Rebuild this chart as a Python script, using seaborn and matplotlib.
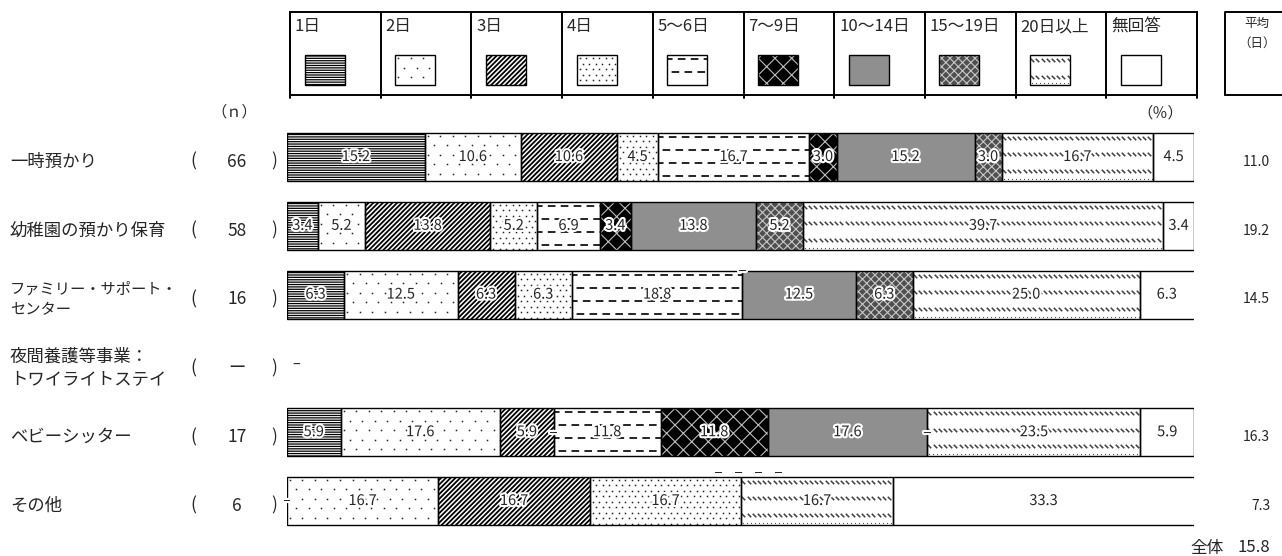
# 利用日数の横帯グラフ（一時預かり等）
import numpy as np
import pandas as pd
import matplotlib.pyplot as plt
import matplotlib.patheffects as pe
from matplotlib.patches import Rectangle
from matplotlib.transforms import blended_transform_factory
import seaborn as sns

# データ
rows = ['一時預かり', '幼稚園の預かり保育', 'ファミリー・サポート・\nセンター',
        '夜間養護等事業：\nトワイライトステイ', 'ベビーシッター', 'その他']
n_labels = ['66', '58', '16', 'ー', '17', '6']
days = ['1日', '2日', '3日', '4日', '5～6日', '7～9日', '10～14日', '15～19日', '20日以上', '無回答']

v_ichiji = [15.2, 10.6, 10.6, 4.5, 16.7, 3.0, 15.2, 3.0, 16.7, 4.5]
v_youchien = [3.4, 5.2, 13.8, 5.2, 6.9, 3.4, 13.8, 5.2, 39.7, 3.4]
v_family = [6.3, 12.5, 6.3, 6.3, 18.8, 0.0, 12.5, 6.3, 25.0, 6.3]
v_twilight = []  # 回答者なし
v_baby = [5.9, 17.6, 5.9, 0.0, 11.8, 11.8, 17.6, 0.0, 23.5, 5.9]
v_other = [0.0, 16.7, 16.7, 16.7, 0.0, 0.0, 0.0, 0.0, 16.7, 33.3]
averages = [11.0, 19.2, 14.5, None, 16.3, 7.3]
overall = 15.8

series = [v_ichiji, v_youchien, v_family, v_twilight, v_baby, v_other]

# 塗りの種類（背景色, ハッチ, ハッチ色, ハッチ線幅, 追加模様）
styles = {
    '1日': dict(fc='white', hatch='-------', hc='black', hlw=0.9),
    '2日': dict(fc='white', tex='dots_sparse'),
    '3日': dict(fc='white', hatch='///////', hc='black', hlw=1.3),
    '4日': dict(fc='white', tex='dots_dense'),
    '5～6日': dict(fc='white', tex='dash'),
    '7～9日': dict(fc='black', hatch='xx', hc='#bdbdbd', hlw=0.8),
    '10～14日': dict(fc='#8f8f8f'),
    '15～19日': dict(fc='#4f4f4f', hatch='xxxx', hc='#c8c8c8', hlw=0.8),
    '20日以上': dict(fc='white', tex='bslash'),
    '無回答': dict(fc='white'),
}
zero_above = {(2, 5)}

sns.set_style('white')
plt.rcParams['font.family'] = ['Noto Sans CJK JP', 'DejaVu Sans']
plt.rcParams['hatch.linewidth'] = 0.8
plt.rcParams['lines.scale_dashes'] = False

# 積み上げ用の表
recs = []
for r, vals in zip(rows, series):
    left = 0.0
    for d, v in zip(days, vals):
        recs.append(dict(row=r, day=d, value=v, left=left))
        left += v
df = pd.DataFrame(recs)

W, H = 1282, 556
fig = plt.figure(figsize=(W / 100, H / 100), dpi=100)
bx0, bx1 = 287, 1194
ytop, ybot = 122.6, 535.4
ax = fig.add_axes([bx0 / W, 1 - ybot / H, (bx1 - bx0) / W, (ybot - ytop) / H])
ov = fig.add_axes([0, 0, 1, 1])
ov.set_xlim(0, W)
ov.set_ylim(H, 0)
ov.set_axis_off()


def clipped_points(axx, patch, xs, ys, **kw):
    pts = axx.transData.inverted().transform(np.column_stack([xs, ys]))
    ln, = axx.plot(pts[:, 0], pts[:, 1], ls='none', zorder=1.3, **kw)
    ln.set_clip_path(patch)


def add_texture(axx, patch, kind):
    bb = patch.get_window_extent()
    inv = axx.transData.inverted()
    if kind == 'dash':
        for k, ypx in enumerate(np.arange(bb.y1 - 4, bb.y0 + 1, -13)):
            pts = inv.transform([(bb.x0 - 15, ypx), (bb.x1 + 15, ypx)])
            ln, = axx.plot(pts[:, 0], pts[:, 1], color='black', lw=1.2, zorder=1.3)
            ln.set_linestyle((0 if k % 2 == 0 else 4.5, (5.5, 3.8)))
            ln.set_clip_path(patch)
    elif kind == 'bslash':
        for ypx in np.arange(bb.y1 - 5, bb.y0 + 6, -16.5):
            xs = np.arange(bb.x0 + 2, bb.x1, 5.2)
            clipped_points(axx, patch, xs, np.full_like(xs, ypx), marker=(2, 2, 45),
                           ms=3.4, mew=0.8, color='#444444')
        xs = np.arange(bb.x0 + 2, bb.x1, 4.0)
        clipped_points(axx, patch, xs, np.full_like(xs, bb.y0 + 2), marker='s',
                       ms=0.8, mew=0, color='#555555')
    elif kind.startswith('dots'):
        dx, dy = (12.5, 9.5) if kind == 'dots_sparse' else (6.5, 5.5)
        for k, ypx in enumerate(np.arange(bb.y1 - 3, bb.y0, -dy)):
            xs = np.arange(bb.x0 + 3 + (dx / 2 if k % 2 else 0), bb.x1, dx)
            clipped_points(axx, patch, xs, np.full_like(xs, ypx), marker='s',
                           ms=1.1, mew=0, color='#222222')


# 帯（塗り）
subs = {}
fills = {}
for d in days:
    st = styles[d]
    sub = df[(df.day == d) & (df.value > 0)]
    subs[d] = sub
    with plt.rc_context({'hatch.linewidth': st.get('hlw', 0.8)}):
        sns.barplot(data=sub, x='value', y='row', order=rows, orient='h', width=0.7,
                    errorbar=None, color=st['fc'], saturation=1, left=sub['left'].to_numpy(),
                    facecolor=st['fc'], edgecolor=st.get('hc', 'black'), hatch=st.get('hatch'),
                    linewidth=0, ax=ax)
    fills[d] = ax.containers[-1]

ax.set_xlim(0, 100)
ax.set_ylim(len(rows) - 0.5, -0.5)

halo = [pe.withStroke(linewidth=3, foreground='white')]
for d in days:
    st = styles[d]
    sub = subs[d]
    if 'tex' in st:
        for p in fills[d]:
            add_texture(ax, p, st['tex'])
    sns.barplot(data=sub, x='value', y='row', order=rows, orient='h', width=0.7,
                errorbar=None, color='white', saturation=1, left=sub['left'].to_numpy(),
                facecolor='none', edgecolor='black', linewidth=1.0, zorder=1.6, ax=ax)
    ax.bar_label(ax.containers[-1], labels=[f'{v:.1f}' for v in sub['value']],
                 label_type='center', fontsize=10.5, path_effects=halo, zorder=5)

ax.set_xlim(0, 100)
ax.set_ylim(len(rows) - 0.5, -0.5)
ax.set_axis_off()

# 0% の「－」
for i, vals in enumerate(series):
    if not vals:
        ax.text(1.0, i + 0.02, '–', ha='center', va='center', fontsize=10.5)
        continue
    lefts = np.cumsum([0.0] + vals[:-1])
    zeros = [j for j, v in enumerate(vals) if v == 0]
    runs = []
    for j in zeros:
        if runs and runs[-1][-1] == j - 1:
            runs[-1].append(j)
        else:
            runs.append([j])
    for run in runs:
        n = len(run)
        for k, j in enumerate(run):
            if n > 1 or (i, j) in zero_above:
                dx = ((k - (n - 1) / 2) * 20 + (7 if n > 1 else 0)) * 0.72
                dy = 3 if n > 1 else 0
                ax.annotate('–', (lefts[j], i - 0.35), xytext=(dx, dy), textcoords='offset points',
                            ha='center', va='center', fontsize=10.5, path_effects=halo, zorder=6)
            else:
                ax.annotate('–', (lefts[j], i), ha='center', va='center', fontsize=10.5,
                            path_effects=halo, zorder=6)

# 行ラベル・n・平均
tr = blended_transform_factory(ov.transData, ax.transData)
for i, r in enumerate(rows):
    y = i + 0.07
    longest = max(len(s) for s in r.split('\n'))
    ax.text(10, y, r, transform=tr, ha='left', va='center', fontsize=12.5 if longest <= 9 else 11,
            linespacing=1.3)
    ax.text(193, y, '(', transform=tr, ha='center', va='center', fontsize=12.5)
    ax.text(237, y, n_labels[i], transform=tr, ha='center', va='center', fontsize=12.5)
    ax.text(274, y, ')', transform=tr, ha='center', va='center', fontsize=12.5)
    if averages[i] is not None:
        ax.text(1270, y, f'{averages[i]:.1f}', transform=tr, ha='right', va='center', fontsize=10)

ov.text(1190, 548, '全体', ha='left', va='center', fontsize=12)
ov.text(1270, 548, f'{overall:.1f}', ha='right', va='center', fontsize=12)
ov.text(234, 112, '（ｎ）', ha='center', va='center', fontsize=11)
ov.text(1160, 113, '（％）', ha='center', va='center', fontsize=11)

# 凡例
lx0, lx1, ly0, ly1 = 290, 1197, 12, 95
cw = (lx1 - lx0) / len(days)
ov.add_patch(Rectangle((lx0, ly0), lx1 - lx0, ly1 - ly0, fill=False, ec='black', lw=1.4))
for k, d in enumerate(days):
    st = styles[d]
    cx = lx0 + k * cw
    ov.plot([cx, cx], [ly0, ly1 + 3], color='black', lw=1.4)
    ov.text(cx + 5, 27, d, ha='left', va='center', fontsize=12)
    with plt.rc_context({'hatch.linewidth': st.get('hlw', 0.8)}):
        sw = Rectangle((cx + 14.5, 55), 40, 30, fc=st['fc'], ec=st.get('hc', 'black'),
                       hatch=st.get('hatch'), lw=0)
    ov.add_patch(sw)
    if 'tex' in st:
        add_texture(ov, sw, st['tex'])
    ov.add_patch(Rectangle((cx + 14.5, 55), 40, 30, fill=False, ec='black', lw=1.0, zorder=1.6))
ov.plot([lx1, lx1], [ly0, ly1 + 3], color='black', lw=1.4)

ov.plot([1225, 1225, 1282], [ly1, ly0, ly0], color='black', lw=1.4)
ov.plot([1225, 1282], [ly1, ly1], color='black', lw=1.4)
ov.text(1257, 23, '平均', ha='center', va='center', fontsize=9)
ov.text(1257, 43, '（日）', ha='center', va='center', fontsize=9)

fig.savefig('out.png', dpi=100, facecolor='white')
plt.close()
